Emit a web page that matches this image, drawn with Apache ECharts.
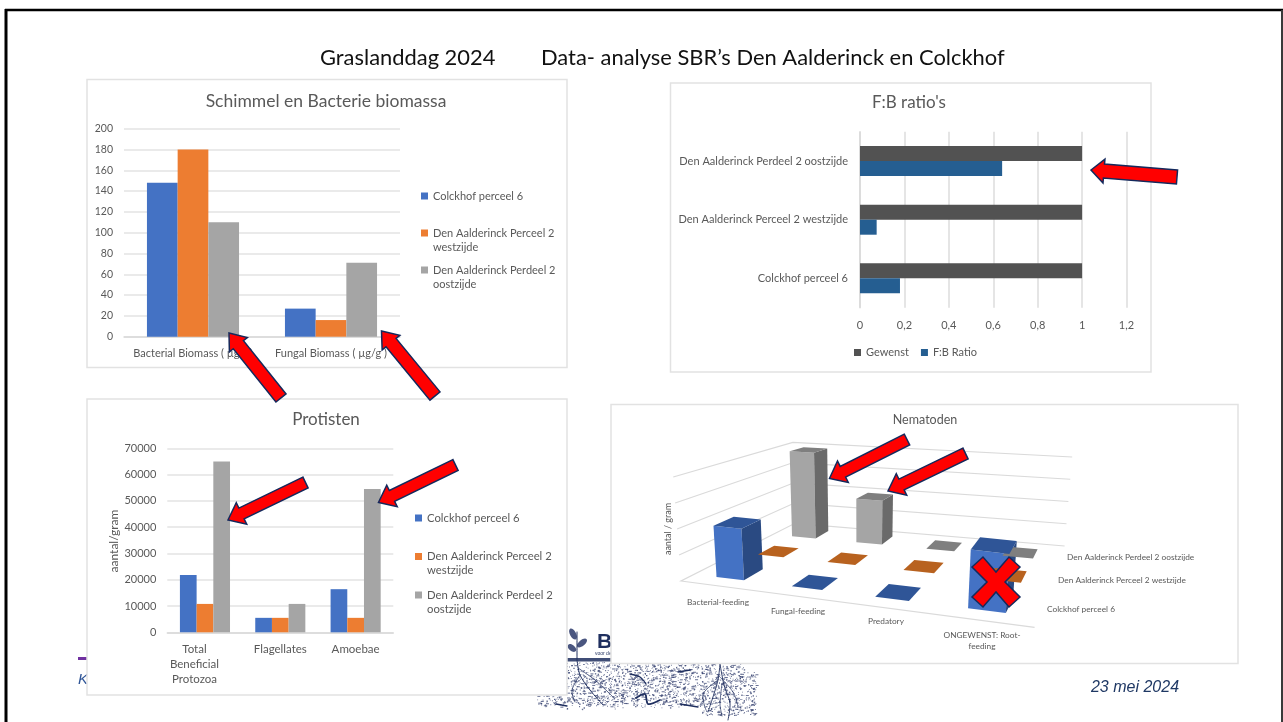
<!DOCTYPE html>
<html>
<head>
<meta charset="utf-8">
<title>Graslanddag 2024</title>
<style>
html,body{margin:0;padding:0;background:#fff;}
#main{width:1283px;height:722px;}
</style>
<script src="https://cdn.jsdelivr.net/npm/echarts@6/dist/echarts.min.js"></script>
</head>
<body>
<div id="main"></div>
<script>
// series names
var nameColckhof = 'Colckhof perceel 6';
var nameWest = 'Den Aalderinck Perceel 2 westzijde';
var nameOost = 'Den Aalderinck Perdeel 2 oostzijde';

// Schimmel en Bacterie biomassa
var biomassCategories = ['Bacterial Biomass ( µg/g)', 'Fungal Biomass ( µg/g )'];
var biomassColckhof = [148, 27];
var biomassWest = [180, 16];
var biomassOost = [110, 71];

// F:B ratio's
var ratioCategories = [nameColckhof, nameWest, nameOost];
var ratioValues = [0.18, 0.075, 0.64];
var ratioGewenst = [1, 1, 1];
var ratioTicks = ['0', '0,2', '0,4', '0,6', '0,8', '1', '1,2'];

// Protisten
var protistCategories = ['Total\nBeneficial\nProtozoa', 'Flagellates', 'Amoebae'];
var protistColckhof = [21800, 5500, 16400];
var protistWest = [10800, 5500, 5500];
var protistOost = [65000, 10800, 54500];

// Nematoden, schatting: de as heeft geen getallen
var nemaCategories = ['Bacterial-feeding', 'Fungal-feeding', 'Predatory', 'ONGEWENST: Root-\nfeeding'];
var nemaRows = [nameColckhof, nameWest, nameOost];
var nemaColckhof = [20, 0, 0, 22];
var nemaWest = [0, 0, 0, 0];
var nemaOost = [39, 19.5, 0, 0];
var nemaLevels = [0, 10, 20, 30, 40];

var textColor = '#595959';
var chartFont = 'Lato';
var navy = '#1F2F5F';
var blue = '#4472C4', orange = '#ED7D31', gray = '#A5A5A5';

var myChart = echarts.init(document.getElementById('main'));

// legenda: lege eerste regel zodat het blokje bij de eerste tekstregel staat
function legendLabel(name) {
    if (name == nameColckhof) return '\n' + name + '\n ';
    if (name == nameWest) return '\nDen Aalderinck Perceel 2\nwestzijde';
    return '\nDen Aalderinck Perdeel 2\noostzijde';
}

function sideLegend(left, top, size, lineHeight, gap) {
    return {
        orient: 'vertical', left: left, top: top, padding: 0, itemWidth: 7, itemHeight: 7, itemGap: gap,
        icon: 'rect', data: [nameColckhof, nameWest, nameOost], formatter: legendLabel,
        textStyle: {color: textColor, fontFamily: chartFont, fontSize: size, lineHeight: lineHeight}
    };
}

function catAxis(gridIndex, data, size, margin) {
    return {
        type: 'category', gridIndex: gridIndex, data: data,
        axisTick: {show: false},
        axisLine: {lineStyle: {color: '#D9D9D9', width: 1.5}},
        axisLabel: {color: textColor, fontFamily: chartFont, fontSize: size, margin: margin, lineHeight: 15, interval: 0}
    };
}

function valAxis(gridIndex, max, interval, size, margin) {
    return {
        type: 'value', gridIndex: gridIndex, min: 0, max: max, interval: interval,
        axisLine: {show: false}, axisTick: {show: false},
        splitLine: {lineStyle: {color: '#E3E3E3', width: 1.5}},
        axisLabel: {
            color: textColor, fontFamily: chartFont, fontSize: size, margin: margin,
            formatter: function (v) { return String(v); }
        }
    };
}

function barSeries(name, data, color, axisIdx, width) {
    return {
        type: 'bar', name: name, data: data, xAxisIndex: axisIdx, yAxisIndex: axisIdx,
        barGap: 0, barWidth: width, itemStyle: {color: color}, silent: true, animation: false
    };
}

/* ---------- 3D vloer van Nematoden ---------- */
var floorFL = [681, 581], floorFR = [1034.6, 627.3], floorBR = [1064.6, 546], floorBL = [795, 523.3];
var wallFL = 104, wallFR = 110, wallBR = 89, wallBL = 81;//hoogte van de as in px per hoek
var nemaGrid = {left: 700, top: 470, width: 200, height: 100};

// homografie eenheidsvierkant -> vloer
var H = (function () {
    var x0 = floorFL[0], y0 = floorFL[1], x1 = floorFR[0], y1 = floorFR[1];
    var x2 = floorBR[0], y2 = floorBR[1], x3 = floorBL[0], y3 = floorBL[1];
    var dx1 = x1 - x2, dx2 = x3 - x2, sx = x0 - x1 + x2 - x3;
    var dy1 = y1 - y2, dy2 = y3 - y2, sy = y0 - y1 + y2 - y3;
    var den = dx1 * dy2 - dx2 * dy1;
    var g = (sx * dy2 - dx2 * sy) / den, h = (dx1 * sy - sx * dy1) / den;
    return {a: x1 - x0 + g * x1, b: x3 - x0 + h * x3, c: x0, d: y1 - y0 + g * y1, e: y3 - y0 + h * y3, f: y0, g: g, h: h};
})();

// s,t op de vloer (0..1), frac = deel van de hoogte-as
function project(s, t, frac) {
    var w = H.g * s + H.h * t + 1;
    var x = (H.a * s + H.b * t + H.c) / w;
    var y = (H.d * s + H.e * t + H.f) / w;
    var wall = (1 - t) * ((1 - s) * wallFL + s * wallFR) + t * ((1 - s) * wallBL + s * wallBR);
    var up = wall * frac;
    return [x + (x - 860) * up / 2400, y - up];
}

function frontColor(row) { return [blue, orange, gray][row]; }
function topColor(row) { return ['#2F5597', '#B8621F', '#7F7F7F'][row]; }
function sideColor(row) { return ['#2A4A82', '#9C5318', '#6A6A6A'][row]; }

function poly(points, color, z2) {
    return {type: 'polygon', z2: z2, shape: {points: points}, style: {fill: color}};
}

function renderNemaBar(params, api) {
    var cat = api.value(0), value = api.value(1), row = api.value(2);
    // schaal via de (verborgen) assen van het grid
    var base = api.coord([cat, 0]), tip = api.coord([cat, value]);
    var s = (base[0] - nemaGrid.left) / nemaGrid.width;
    var frac = (base[1] - tip[1]) / nemaGrid.height;
    var t = (row + 0.5) / 3;
    var ds = 0.047, dt = 0.075;
    var s0 = s - ds, s1 = s + ds, t0 = t - dt, t1 = t + dt;
    var a = project(s0, t0, 0), b = project(s1, t0, 0), c = project(s1, t1, 0);
    var at = project(s0, t0, frac), bt = project(s1, t0, frac), ct = project(s1, t1, frac), dtp = project(s0, t1, frac);
    var children = [];
    if (value > 0) {
        children.push(poly([a, b, bt, at], frontColor(row), 1));
        children.push(poly([b, c, ct, bt], sideColor(row), 1));
    }
    children.push(poly([at, bt, ct, dtp], topColor(row), 2));
    return {type: 'group', children: children};
}

function renderNemaGrid(params, api) {
    var p = api.coord([0, api.value(0)]), zero = api.coord([0, 0]);
    var frac = (zero[1] - p[1]) / nemaGrid.height;
    var points = [project(0, 0, frac), project(0, 1, frac), project(1, 1, frac)];
    if (api.value(0) == 0) points.unshift(project(1, 0, 0));//voorkant van de vloer
    return {
        type: 'polyline',
        shape: {points: points},
        style: {fill: null, stroke: '#DADADA', lineWidth: 1.2}
    };
}

// van achter naar voren tekenen
var nemaBarData = [];
[[nemaOost, 2], [nemaWest, 1], [nemaColckhof, 0]].forEach(function (item) {
    item[0].forEach(function (v, i) { nemaBarData.push([i, v, item[1]]); });
});

/* ---------- plaatjes en teksten van de dia ---------- */
// pijl van staart naar punt
function arrow(tail, tip, shaft, head, headLen) {
    var dx = tip[0] - tail[0], dy = tip[1] - tail[1];
    var len = Math.sqrt(dx * dx + dy * dy);
    var ux = dx / len, uy = dy / len, nx = -uy, ny = ux;
    var bx = tip[0] - ux * headLen, by = tip[1] - uy * headLen;
    return {
        type: 'polygon', z: 50,
        shape: {points: [
            [tail[0] + nx * shaft, tail[1] + ny * shaft], [bx + nx * shaft, by + ny * shaft],
            [bx + nx * head, by + ny * head], tip,
            [bx - nx * head, by - ny * head], [bx - nx * shaft, by - ny * shaft],
            [tail[0] - nx * shaft, tail[1] - ny * shaft]
        ]},
        style: {fill: '#FF0000', stroke: '#14295C', lineWidth: 1.5, lineJoin: 'miter'}
    };
}

function panel(x, y, w, h) {
    return {
        type: 'rect', z: -5, shape: {x: x, y: y, width: w, height: h},
        style: {fill: '#fff', stroke: '#E2E2E2', lineWidth: 1.5}
    };
}

function label(text, x, y, size, opt) {
    opt = opt || {};
    return {
        type: 'text', z: opt.z === undefined ? 3 : opt.z, x: x, y: y, rotation: opt.rotation || 0,
        style: {
            text: text, fill: opt.color || textColor, fontFamily: opt.font || chartFont, fontSize: size,
            fontStyle: opt.italic ? 'italic' : 'normal', fontWeight: opt.bold ? 'bold' : 'normal',
            align: opt.align || 'center', verticalAlign: 'middle', lineHeight: opt.lineHeight
        }
    };
}

function line(points, width, color, z) {
    return {
        type: 'polyline', z: z === undefined ? -8 : z, shape: {points: points, smooth: 0.3},
        style: {fill: null, stroke: color || navy, lineWidth: width, lineCap: 'round'}
    };
}

// stippelveld van het logo, vaste hash per index, alleen decoratie (geen data)
function hash(n) {
    var v = Math.sin(n * 12.9898) * 43758.5453;
    return v - Math.floor(v);
}
function soilDots() {
    var list = [];
    for (var i = 1; i < 2300; i++) {
        var x = 537 + hash(i) * 219;
        var y = 662 + hash(i + 5000) * 53;
        if (x < 567 && y < 695) continue;
        if (x > 611 && y < 664) continue;
        var bottom = x > 700 ? 715 : 709 - hash(i + 9000) * 6;
        if (y > bottom) continue;
        if (x > 745 && y < 672) continue;
        var long = i % 9 == 0;
        var size = i % 4 == 0 ? 1.4 : 0.9;
        list.push({
            type: 'rect', z: -9,
            shape: {x: x, y: y, width: long ? 3 : size, height: long ? 1 : size},
            style: {fill: '#34406F', opacity: 0.75}
        });
    }
    return list;
}

var elements = [
    // dia rand
    {type: 'line', z: -10, shape: {x1: 5, y1: 10, x2: 1283, y2: 10}, style: {stroke: '#000', lineWidth: 2.5}},
    {type: 'line', z: -10, shape: {x1: 6, y1: 9, x2: 6, y2: 722}, style: {stroke: '#000', lineWidth: 3}},
    {type: 'line', z: -10, shape: {x1: 1282, y1: 10, x2: 1282, y2: 722}, style: {stroke: '#3A3A3A', lineWidth: 2}},
    label('Graslanddag 2024', 320, 58, 21.9, {align: 'left', color: '#111'}),
    label('Data- analyse SBR’s Den Aalderinck en Colckhof', 541, 58, 21.9, {align: 'left', color: '#111'}),
    // voettekst
    {type: 'rect', z: -9, shape: {x: 78, y: 657, width: 10, height: 3}, style: {fill: '#7030A0'}},
    label('Kennisdag', 78, 680, 15, {align: 'left', italic: true, color: '#2F5597', font: 'Liberation Sans', z: -9}),
    label('23 mei 2024', 1135, 688, 16, {italic: true, color: '#1F3864', font: 'Liberation Sans'}),
    // logo
    label('Bo', 597, 642, 21, {align: 'left', bold: true, color: navy, font: 'Liberation Sans', z: -9}),
    label('voor de bodem', 595, 654, 5, {align: 'left', color: navy, font: 'Liberation Sans', z: -9}),
    line([[577, 659], [577, 632]], 1),
    {type: 'ellipse', z: -9, shape: {cx: 573, cy: 634, rx: 3, ry: 6}, rotation: 0.5, originX: 573, originY: 634, style: {fill: '#4A5680'}},
    {type: 'ellipse', z: -9, shape: {cx: 582, cy: 643, rx: 3, ry: 6}, rotation: -0.9, originX: 582, originY: 643, style: {fill: '#4A5680'}},
    {type: 'ellipse', z: -9, shape: {cx: 572, cy: 648, rx: 3, ry: 5}, rotation: 0.9, originX: 572, originY: 648, style: {fill: '#4A5680'}},
    {type: 'rect', z: -9, shape: {x: 567, y: 658, width: 44, height: 3.5}, style: {fill: navy, opacity: 0.85}},
    line([[577, 660], [580, 675], [590, 690], [603, 705]], 1),
    line([[578, 668], [595, 680], [612, 696]], 0.8),
    line([[580, 675], [572, 690], [575, 702]], 0.8),
    line([[720, 664], [718, 680], [712, 700], [708, 712]], 0.9),
    line([[720, 664], [724, 685], [730, 703], [728, 720]], 0.9),
    line([[719, 676], [733, 692], [738, 706]], 0.7),
    line([[718, 680], [703, 694], [706, 710]], 0.7),
    line([[722, 684], [720, 704], [722, 716]], 0.7),
    line([[636, 698], [645, 694], [648, 704], [660, 700]], 1.8),
    line([[630, 674], [640, 677], [646, 684]], 1.3),
    line([[556, 704], [567, 706]], 1.3),
    line([[680, 704], [698, 707]], 1.3),
    line([[678, 672], [690, 670]], 1.3),
    // panelen
    panel(87, 79.5, 480, 288),
    panel(670.5, 83, 480.5, 289),
    panel(87, 399, 480, 296),
    panel(611, 404.5, 627, 259),
    // titels
    label('Schimmel en Bacterie biomassa', 326, 101, 17.5),
    label("F:B ratio's", 909, 103, 17),
    label('Protisten', 326, 420, 17),
    label('Nematoden', 925, 420, 12.5),
    label('aantal/gram', 114, 541, 12, {rotation: Math.PI / 2}),
    label('aantal / gram', 668, 529, 9, {rotation: Math.PI / 2}),
    // rode pijlen
    arrow([281, 398], [229, 333], 6.5, 11.5, 15),
    arrow([435, 396], [381.5, 331], 6.5, 11.5, 15),
    arrow([1177, 177], [1091, 170], 7, 12, 13),
    arrow([305.5, 482.5], [228, 520], 6, 12, 15),
    arrow([455.5, 465], [378.5, 502.5], 6, 12, 15),
    arrow([907, 439.5], [829.5, 478.5], 6, 12, 15),
    arrow([965.5, 453.5], [888, 491], 6, 12, 15),
    // rood kruis over Root-feeding
    {
        type: 'polygon', z: 50, x: 996, y: 582,
        shape: {points: [[-24, -15], [-13, -25], [0, -10], [13, -25], [24, -15], [9, 0], [24, 15], [13, 25], [0, 10], [-13, 25], [-24, 15], [-9, 0]]},
        style: {fill: '#FF0000', stroke: '#14295C', lineWidth: 1.5}
    }
].concat(soilDots());

// labels van de Nematoden-assen
var nemaCatPos = [[718, 602], [798, 611], [886, 621], [982, 641]];
nemaCategories.forEach(function (name, i) {
    elements.push(label(name, nemaCatPos[i][0], nemaCatPos[i][1], 8.3, {lineHeight: 11}));
});
var nemaRowPos = [[1047, 609], [1058, 580], [1067, 557]];
nemaRows.forEach(function (name, i) {
    elements.push(label(name, nemaRowPos[i][0], nemaRowPos[i][1], 8.3, {align: 'left'}));
});

var protistAxis = catAxis(2, protistCategories, 11.5, 9);
// meerregelig label staat in het origineel iets links van de staven
protistAxis.axisLabel.formatter = function (v) {
    if (v.indexOf('\n') < 0) return v;
    return v.split('\n').map(function (l) { return '{p|' + l + '}'; }).join('\n');
};
protistAxis.axisLabel.rich = {p: {padding: [0, 21, 0, 0], fontFamily: chartFont, fontSize: 11.5, color: textColor, lineHeight: 15}};

var option = {
    backgroundColor: '#fff',
    animation: false,
    graphic: {elements: elements},
    legend: [
        sideLegend(421, 175, 11, 14, -5),
        sideLegend(415, 497, 11.3, 14, -3.5),
        {
            left: 854, top: 347, padding: 0, itemWidth: 7, itemHeight: 7, itemGap: 12, icon: 'rect',
            data: ['Gewenst', 'F:B Ratio'],
            textStyle: {color: textColor, fontFamily: chartFont, fontSize: 11}
        }
    ],
    grid: [
        {left: 124, top: 128.7, width: 276, height: 208},
        {left: 860, top: 131.7, width: 266.5, height: 176},
        {left: 167.3, top: 448.3, width: 226, height: 184},
        nemaGrid
    ],
    xAxis: [
        catAxis(0, biomassCategories, 11, 9),
        {
            type: 'value', gridIndex: 1, min: 0, max: 1.2, interval: 0.2,
            axisLine: {show: false}, axisTick: {show: false},
            splitLine: {lineStyle: {color: '#DCDCDC', width: 1.5}},
            axisLabel: {
                color: textColor, fontFamily: chartFont, fontSize: 11, margin: 12,
                formatter: function (v) { return ratioTicks[Math.round(v * 5)]; }
            }
        },
        protistAxis,
        {type: 'category', gridIndex: 3, show: false, data: nemaCategories}
    ],
    yAxis: [
        valAxis(0, 200, 20, 10.5, 11),
        catAxis(1, ratioCategories, 11, 12),
        valAxis(2, 70000, 10000, 11, 11),
        {type: 'value', gridIndex: 3, show: false, min: 0, max: 40, interval: 10, splitLine: {show: false}}
    ],
    series: [
        barSeries(nameColckhof, biomassColckhof, blue, 0, 30.7),
        barSeries(nameWest, biomassWest, orange, 0, 30.7),
        barSeries(nameOost, biomassOost, gray, 0, 30.7),
        barSeries('Gewenst', ratioGewenst, '#525252', 1, 15),
        barSeries('F:B Ratio', ratioValues, '#255E91', 1, 15),
        barSeries(nameColckhof, protistColckhof, blue, 2, 16.7),
        barSeries(nameWest, protistWest, orange, 2, 16.7),
        barSeries(nameOost, protistOost, gray, 2, 16.7),
        {
            type: 'custom', xAxisIndex: 3, yAxisIndex: 3, silent: true, z: 1,
            data: nemaLevels.map(function (v) { return [v]; }),
            encode: {y: 0}, renderItem: renderNemaGrid
        },
        {
            type: 'custom', xAxisIndex: 3, yAxisIndex: 3, silent: true, z: 2,
            data: nemaBarData, encode: {x: 0, y: 1}, renderItem: renderNemaBar
        }
    ]
};
myChart.setOption(option);
</script>
</body>
</html>
